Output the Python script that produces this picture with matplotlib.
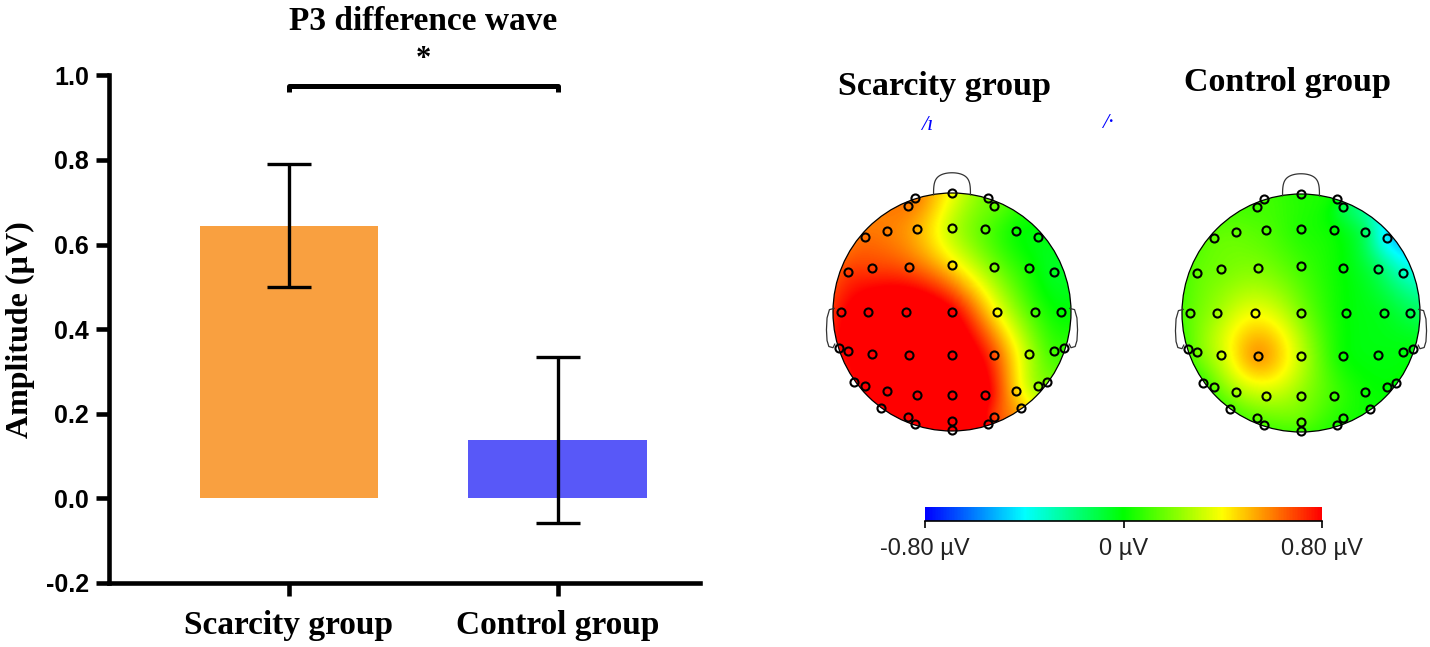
import numpy as np
import matplotlib.pyplot as plt
from matplotlib.colors import LinearSegmentedColormap
from matplotlib.patches import Circle

# bar chart: P3 difference wave amplitude
groups = ['Scarcity group', 'Control group']
amplitude = [0.645, 0.139]
amp_err = [0.146, 0.196]
bar_colors = ['#F9A040', '#5858F8']
yticks = [-0.2, 0.0, 0.2, 0.4, 0.6, 0.8, 1.0]

# electrode layout (head radius = 1, nose up)
elec_x = [0, -0.31, -0.37, 0.30, 0.35,
          -0.73, -0.55, -0.29, 0, 0.28, 0.535, 0.72,
          -0.875, -0.67, -0.36, 0, 0.35, 0.65, 0.86,
          -0.93, -0.71, -0.39, 0, 0.38, 0.70, 0.92,
          -0.95, -0.875, -0.67, -0.36, 0, 0.35, 0.65, 0.86, 0.94,
          -0.82, -0.73, -0.55, -0.29, 0, 0.28, 0.535, 0.72, 0.80,
          -0.60, -0.37, -0.31, 0, 0, 0.30, 0.35, 0.58]
elec_y = [1.0, 0.955, 0.89, 0.955, 0.89,
          0.63, 0.68, 0.70, 0.71, 0.70, 0.68, 0.63,
          0.34, 0.37, 0.375, 0.395, 0.375, 0.37, 0.34,
          0, 0, 0, 0, 0, 0, 0,
          -0.305, -0.33, -0.357, -0.363, -0.365, -0.363, -0.357, -0.33, -0.305,
          -0.585, -0.625, -0.665, -0.695, -0.70, -0.695, -0.665, -0.625, -0.585,
          -0.805, -0.88, -0.94, -0.915, -0.99, -0.94, -0.88, -0.805]

# amplitude at each electrode (uV)
scarcity_uv = [0.38, 0.60, 0.60, 0.18, 0.16,
               0.62, 0.60, 0.52, 0.30, 0.14, 0.02, -0.02,
               0.70, 0.70, 0.66, 0.45, 0.20, 0.03, -0.05,
               0.78, 0.88, 0.95, 0.82, 0.40, 0.10, 0.0,
               0.78, 0.82, 0.95, 1.00, 0.95, 0.68, 0.28, 0.10, 0.08,
               0.78, 0.85, 0.95, 1.00, 0.98, 0.85, 0.48, 0.25, 0.20,
               0.88, 0.95, 0.95, 0.95, 0.90, 0.80, 0.72, 0.50]
control_uv = [0.05, 0.10, 0.10, -0.02, -0.10,
              0.15, 0.15, 0.12, 0.05, 0.0, -0.15, -0.42,
              0.15, 0.18, 0.20, 0.10, 0.0, -0.15, -0.30,
              0.15, 0.25, 0.38, 0.20, 0.0, -0.05, -0.12,
              0.12, 0.18, 0.32, 0.55, 0.30, 0.02, -0.02, -0.02, -0.02,
              0.10, 0.15, 0.25, 0.30, 0.22, 0.10, 0.02, 0.0, 0.0,
              0.12, 0.15, 0.12, 0.15, 0.10, 0.05, 0.05, 0.02]

cbar_ticks = [-0.8, 0, 0.8]
cbar_labels = ['-0.80 µV', '0 µV', '0.80 µV']

W, H = 1430, 647
fig = plt.figure(figsize=(W / 100, H / 100), dpi=100)

# ---- bar chart ----
ax = fig.add_axes([109 / W, 1 - 583 / H, 591 / W, 507.6 / H])
xpos = np.arange(len(groups))
ax.bar(xpos, amplitude, width=0.665, color=bar_colors, zorder=1)
ax.errorbar(xpos, amplitude, yerr=amp_err, fmt='none', ecolor='black',
            elinewidth=2.4, capsize=15.5, capthick=2.4, zorder=2)
ax.set_xlim(-0.67, 1.53)
ax.set_ylim(-0.2, 1.0)
ax.set_yticks(yticks)
ax.set_yticklabels(['%.1f' % v for v in yticks], fontfamily='Liberation Sans',
                   fontweight='bold', fontsize=18)
ax.set_xticks(xpos)
ax.set_xticklabels(groups, fontfamily='Liberation Serif', fontweight='bold',
                   fontsize=24)
ax.tick_params(width=3.3, length=9.5, pad=5)
ax.tick_params(axis='x', pad=10)
for s in ['top', 'right']:
    ax.spines[s].set_visible(False)
for s in ['left', 'bottom']:
    ax.spines[s].set_linewidth(3.3)
ax.set_ylabel('Amplitude (µV)', fontfamily='Liberation Serif',
              fontweight='bold', fontsize=23, labelpad=8)

# significance bracket
ax.plot([0, 0, 1, 1], [0.96, 0.974, 0.974, 0.96], color='black', lw=3.6,
        clip_on=False, solid_capstyle='butt')
ax.text(0.5, 1.038, '*', ha='center', va='center', fontsize=22,
        fontfamily='Liberation Serif', fontweight='bold', clip_on=False)
ax.text(0.5, 1.128, 'P3 difference wave', ha='center', va='center',
        fontsize=24, fontfamily='Liberation Serif', fontweight='bold',
        clip_on=False)

# ---- topographic maps ----
cmap = LinearSegmentedColormap.from_list(
    'topo', ['#0000FF', '#00FFFF', '#00FF00', '#FFFF00', '#FF0000'])

ex = np.array(elec_x)
ey = np.array(elec_y)


def biharmonic(vals, gx, gy):
    # v4-style biharmonic spline interpolation
    d = np.hypot(ex[:, None] - ex[None, :], ey[:, None] - ey[None, :])
    with np.errstate(divide='ignore', invalid='ignore'):
        G = np.where(d > 0, d ** 2 * (np.log(d) - 1), 0.0)
    w = np.linalg.solve(G, np.array(vals))
    r = np.hypot(gx[..., None] - ex, gy[..., None] - ey)
    with np.errstate(divide='ignore', invalid='ignore'):
        Gg = np.where(r > 0, r ** 2 * (np.log(r) - 1), 0.0)
    return Gg @ w


g = np.linspace(-1, 1, 301)
gx, gy = np.meshgrid(g, g)

t = np.linspace(0, np.pi, 60)
nose_x = 0.155 * np.cos(t) * (1 + 0.25 * np.sin(t) ** 2)
nose_y = 0.985 + 0.185 * np.sin(t) ** 0.7
ear_x = np.array([0.99, 1.03, 1.05, 1.055, 1.05, 1.035, 1.0, 0.985])
ear_y = np.array([0.03, 0.02, -0.05, -0.15, -0.24, -0.29, -0.30, -0.27])

heads = [(952, 312, scarcity_uv, 'Scarcity group', 944, 86),
         (1301, 313, control_uv, 'Control group', 1287, 82)]
half = 1.3 * 119
for cx, cy, vals, title, tx, ty in heads:
    tax = fig.add_axes([(cx - half) / W, 1 - (cy + half) / H,
                        2 * half / W, 2 * half / H])
    tax.set_xlim(-1.3, 1.3)
    tax.set_ylim(-1.3, 1.3)
    tax.axis('off')
    z = np.clip(biharmonic(vals, gx, gy), -0.8, 0.8)
    im = tax.imshow(z, extent=[-1, 1, -1, 1], origin='lower', cmap=cmap,
                    vmin=-0.8, vmax=0.8, interpolation='bilinear')
    clip = Circle((0, 0), 1.0, transform=tax.transData)
    im.set_clip_path(clip)
    tax.add_patch(Circle((0, 0), 1.0, fill=False, ec='black', lw=0.9))
    tax.plot(nose_x, nose_y, color='#333333', lw=0.9)
    tax.plot(ear_x, ear_y, color='#333333', lw=0.9)
    tax.plot(-ear_x, ear_y, color='#333333', lw=0.9)
    tax.plot(ex, ey, 'o', ms=5.8, mfc='none', mec='black', mew=1.5)
    fig.text(tx / W, 1 - ty / H, title, ha='center', va='center',
             fontsize=24.5, fontfamily='Liberation Serif', fontweight='bold')

# stray blue fragments above the maps
fig.text(927 / W, 1 - 125 / H, '/ı', color='blue', fontsize=16,
         fontfamily='Liberation Serif', fontstyle='italic', ha='center', va='center')
fig.text(1108 / W, 1 - 123 / H, '/·', color='blue', fontsize=16,
         fontfamily='Liberation Serif', fontstyle='italic', ha='center', va='center')

# ---- colour bar ----
cax = fig.add_axes([925 / W, 1 - 521 / H, 397 / W, 14 / H])
grad = np.linspace(-0.8, 0.8, 400)[None, :]
cax.imshow(grad, aspect='auto', cmap=cmap, extent=[-0.8, 0.8, 0, 1],
           vmin=-0.8, vmax=0.8)
cax.set_xlim(-0.8, 0.8)
cax.set_yticks([])
for s in ['top', 'left', 'right']:
    cax.spines[s].set_visible(False)
cax.spines['bottom'].set_linewidth(1.2)
cax.set_xticks(cbar_ticks)
cax.set_xticklabels(cbar_labels, fontfamily='Liberation Sans', fontsize=17,
                    color='#222222')
cax.tick_params(axis='x', length=5, width=1.2, pad=7)

fig.savefig('out.png', dpi=100)
